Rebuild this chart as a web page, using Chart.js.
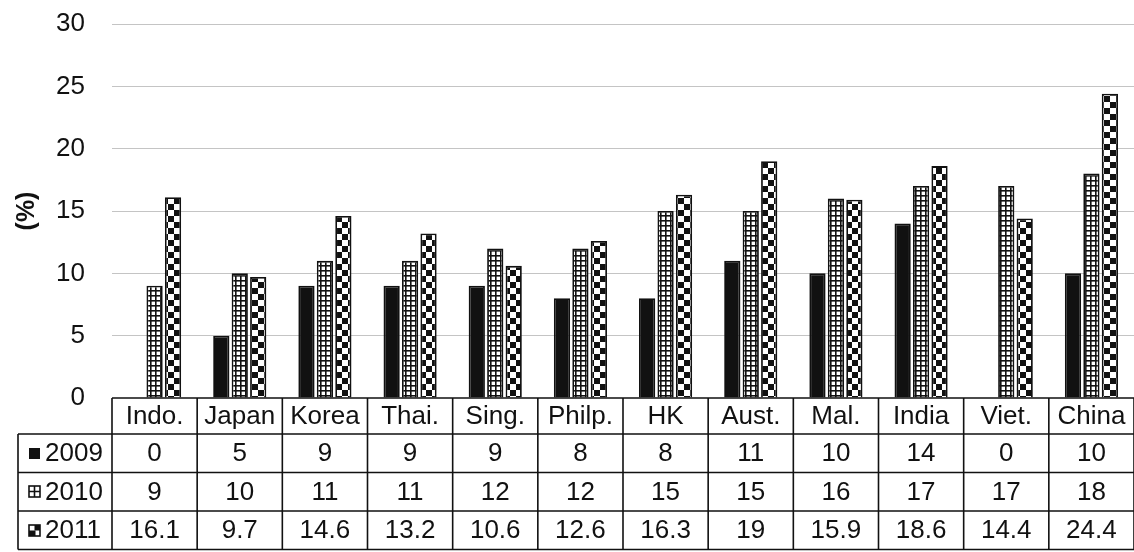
<!DOCTYPE html>
<html>
<head>
<meta charset="utf-8">
<script src="https://cdn.jsdelivr.net/npm/chart.js@4/dist/chart.umd.min.js"></script>
<style>
  html, body { margin: 0; padding: 0; background: #fff; }
  canvas { display: block; }
</style>
</head>
<body>
<canvas id="chart" width="1134" height="552"></canvas>
<script>
// Growth rates by economy, 2009-2011 (%)
const categories = ['Indo.', 'Japan', 'Korea', 'Thai.', 'Sing.', 'Philp.', 'HK', 'Aust.', 'Mal.', 'India', 'Viet.', 'China'];
const years = ['2009', '2010', '2011'];
const values2009 = [0, 5, 9, 9, 9, 8, 8, 11, 10, 14, 0, 10];
const values2010 = [9, 10, 11, 11, 12, 12, 15, 15, 16, 17, 17, 18];
const values2011 = [16.1, 9.7, 14.6, 13.2, 10.6, 12.6, 16.3, 19, 15.9, 18.6, 14.4, 24.4];
const yTicks = [0, 5, 10, 15, 20, 25, 30];

const FONT = '"Liberation Sans", Arial, sans-serif';
const INK = '#111';

// Fill patterns: fine grid for 2010, checkerboard for 2011
function gridPattern(ctx) {
  const c = document.createElement('canvas');
  c.width = 5; c.height = 5;
  const g = c.getContext('2d');
  g.fillStyle = '#fff'; g.fillRect(0, 0, 5, 5);
  g.fillStyle = '#111';
  g.fillRect(0, 0, 5, 1.6);
  g.fillRect(0, 0, 1.6, 5);
  return ctx.createPattern(c, 'repeat');
}
function checkerPattern(ctx) {
  const c = document.createElement('canvas');
  c.width = 12; c.height = 12;
  const g = c.getContext('2d');
  g.fillStyle = '#fff'; g.fillRect(0, 0, 12, 12);
  g.fillStyle = '#111';
  g.fillRect(0, 0, 6, 6);
  g.fillRect(6, 6, 6, 6);
  return ctx.createPattern(c, 'repeat');
}

const canvas = document.getElementById('chart');
const ctx = canvas.getContext('2d');
const fills = ['#111', gridPattern(ctx), checkerPattern(ctx)];

// Data table drawn under the plot, aligned to the category scale
const dataTable = {
  id: 'dataTable',
  afterDraw(chart) {
    const c = chart.ctx;
    const area = chart.chartArea;
    const xs = chart.scales.x;
    const n = categories.length;
    const colW = (area.right - area.left) / n;
    const top = area.bottom;
    const headH = 36, rowH = 38.5;
    const rows = [values2009, values2010, values2011];
    const legendLeft = 18;
    const bottom = top + headH + rowH * rows.length;

    c.save();
    c.strokeStyle = '#111';
    c.lineWidth = 1.6;

    // horizontal rules
    c.beginPath();
    c.moveTo(area.left, top); c.lineTo(area.right, top);
    for (let r = 0; r <= rows.length; r++) {
      const y = top + headH + r * rowH;
      c.moveTo(legendLeft, y); c.lineTo(area.right, y);
    }
    // vertical rules
    for (let i = 0; i <= n; i++) {
      const x = area.left + i * colW;
      c.moveTo(x, top); c.lineTo(x, bottom);
    }
    c.moveTo(legendLeft, top + headH); c.lineTo(legendLeft, bottom);
    c.stroke();

    c.fillStyle = INK;
    c.font = '26px ' + FONT;
    c.textAlign = 'center';
    c.textBaseline = 'middle';
    categories.forEach((name, i) => {
      c.fillText(name, xs.getPixelForValue(i), top + headH / 2 + 1);
    });
    rows.forEach((vals, r) => {
      const cy = top + headH + r * rowH + rowH / 2 + 1;
      vals.forEach((v, i) => c.fillText(String(v), xs.getPixelForValue(i), cy));
    });

    // legend keys in the first column
    rows.forEach((vals, r) => {
      const cy = top + headH + r * rowH + rowH / 2;
      const s = 11, ix = 29, iy = Math.round(cy - s / 2);
      c.lineWidth = 1.6;
      c.strokeStyle = '#111';
      if (r === 0) {
        c.fillStyle = '#111';
        c.fillRect(ix, iy, s, s);
      } else if (r === 1) {
        c.fillStyle = '#fff';
        c.fillRect(ix, iy, s, s);
        c.strokeRect(ix, iy, s, s);
        c.beginPath();
        c.moveTo(ix + s / 2, iy); c.lineTo(ix + s / 2, iy + s);
        c.moveTo(ix, iy + s / 2); c.lineTo(ix + s, iy + s / 2);
        c.stroke();
      } else {
        c.fillStyle = '#fff';
        c.fillRect(ix, iy, s, s);
        c.fillStyle = '#111';
        c.fillRect(ix + s / 2, iy, s / 2, s / 2);
        c.fillRect(ix, iy + s / 2, s / 2 + 1, s / 2);
        c.strokeRect(ix, iy, s, s);
      }
      c.fillStyle = INK;
      c.textAlign = 'left';
      c.fillText(years[r], 45, cy + 1);
    });
    c.restore();
  }
};

new Chart(ctx, {
  type: 'bar',
  data: {
    labels: categories,
    datasets: [
      { label: years[0], data: values2009, backgroundColor: fills[0], borderColor: '#111', borderWidth: 1.8 },
      { label: years[1], data: values2010, backgroundColor: fills[1], borderColor: '#111', borderWidth: 1.8 },
      { label: years[2], data: values2011, backgroundColor: fills[2], borderColor: '#111', borderWidth: 1.8 }
    ]
  },
  options: {
    responsive: false,
    animation: false,
    devicePixelRatio: 1,
    layout: { padding: { top: 24, right: 0, bottom: 154, left: 0 } },
    datasets: { bar: { categoryPercentage: 0.65, barPercentage: 0.88 } },
    plugins: {
      legend: { display: false },
      tooltip: { enabled: false }
    },
    scales: {
      x: { display: false },
      y: {
        min: 0,
        max: 30,
        afterFit(scale) {
          scale.width = 112;
          scale.paddingTop = 12;
          scale.paddingBottom = 12;
        },
        afterBuildTicks(scale) { scale.ticks = yTicks.map(v => ({ value: v })); },
        border: { display: false },
        grid: {
          color: (c) => c.tick && c.tick.value === 0 ? 'rgba(0,0,0,0)' : '#c4c4c4',
          lineWidth: 1,
          drawTicks: false
        },
        ticks: {
          padding: 27,
          color: INK,
          font: { family: FONT, size: 26 }
        },
        title: {
          display: true,
          text: '(%)',
          color: INK,
          font: { family: FONT, size: 25, weight: 'bold' },
          padding: { top: 12, bottom: 0 }
        }
      }
    }
  },
  plugins: [dataTable]
});
</script>
</body>
</html>
